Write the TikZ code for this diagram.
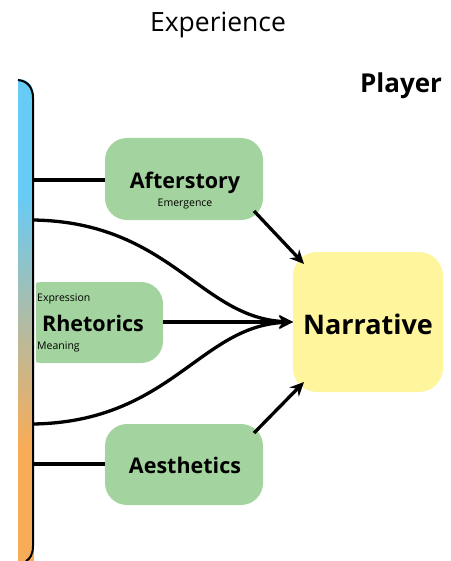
\documentclass[tikz,border=0pt]{standalone}
\usepackage{fontspec}
\setmainfont{Open Sans}
\usetikzlibrary{arrows.meta}
\definecolor{boxgreen}{HTML}{A3D39E}
\definecolor{boxyellow}{HTML}{FFF59D}
\definecolor{barblue}{HTML}{66CBF5}
\definecolor{barmid}{HTML}{B0BCA6}
\definecolor{barorange}{HTML}{F8AC57}
\pgfdeclareverticalshading{barshade}{100bp}{color(0bp)=(barorange); color(37bp)=(barorange); color(50bp)=(barmid); color(63bp)=(barblue); color(100bp)=(barblue)}
\tikzset{
  greenbox/.style={fill=boxgreen, rounded corners=22pt, inner sep=0pt},
  link/.style={line width=3.3pt, draw=black},
  arrowlink/.style={link, -{Stealth[length=14pt,width=13pt]}},
  bigbold/.style={font=\fontsize{21.5}{24}\selectfont\bfseries},
  small/.style={font=\fontsize{10.5}{12}\selectfont},
}
\begin{document}
\begin{tikzpicture}[x=1pt,y=-1pt]
\useasboundingbox (0,0) rectangle (450,561);

% header texts
\node[font=\fontsize{26.5}{30}\selectfont] (exp) at (218,25) {Experience};
\node[font=\fontsize{26}{30}\selectfont\bfseries] (player) at (401,86) {Player};

% green boxes
\fill[greenbox] (105,138) rectangle (263,220);
\node[bigbold] (after) at (185,183) {Afterstory};
\node[small] (emerg) at (185,204) {Emergence};
\coordinate (afterL) at (105,180);
\coordinate (afterBR) at (254,211);

\fill[greenbox] (20,282) rectangle (163,363);
\node[bigbold] (rhet) at (93,323) {Rhetorics};
\node[small, anchor=west, inner sep=0pt] (expr) at (37,299) {Expression};
\node[small, anchor=west, inner sep=0pt] (mean) at (37,347) {Meaning};
\coordinate (rhetR) at (163,322);

\fill[greenbox] (105,424) rectangle (263,505);
\node[bigbold] (aest) at (185,465) {Aesthetics};
\coordinate (aestL) at (105,464);
\coordinate (aestTR) at (254,433);

% narrative box
\fill[boxyellow, rounded corners=24pt] (293,252) rectangle (443,392);
\node[font=\fontsize{27}{30}\selectfont\bfseries] (narr) at (368,324) {Narrative};
\coordinate (narrL) at (293,322);
\coordinate (narrTL) at (304,264);
\coordinate (narrBL) at (304,382);

% gradient bar on the left
\shade[shading=barshade] (18,80) -- (18,561) -- (34,561) -- (34,80) -- cycle;
\fill[white] (18,79) -- (20,79) .. controls (30,80) and (34,88) .. (34,97) -- (34,79) -- cycle;
\fill[white] (34,80) rectangle (36,561);
\draw[line width=2pt] (18,80) .. controls (28,81) and (33,88) .. (33,98) -- (33,546)
  .. controls (33,554) and (30,559) .. (26,561);
\coordinate (barA) at (33,180);
\coordinate (barB) at (33,220);
\coordinate (barC) at (33,424);
\coordinate (barD) at (33,464);

% connectors
\draw[link] (barA) -- (afterL);
\draw[link] (barD) -- (aestL);
\draw[arrowlink] (barB) .. controls (170,222) and (200,318) .. (narrL);
\draw[arrowlink] (barC) .. controls (170,422) and (200,326) .. (narrL);
\draw[arrowlink] (rhetR) -- (narrL);
\draw[arrowlink] (afterBR) -- (narrTL);
\draw[arrowlink] (aestTR) -- (narrBL);
\end{tikzpicture}
\end{document}
